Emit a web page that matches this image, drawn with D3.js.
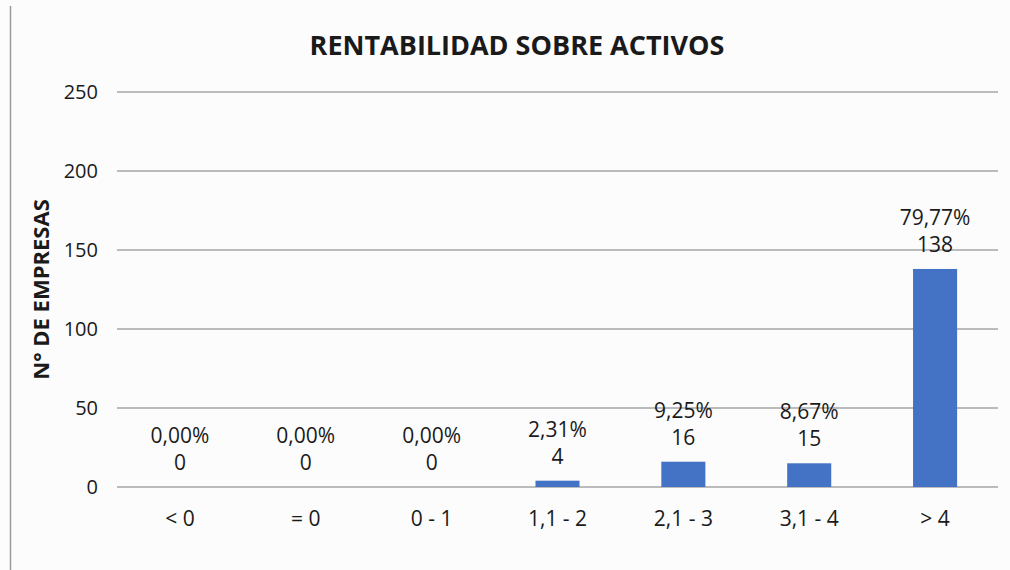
<!DOCTYPE html>
<html>
<head>
<meta charset="utf-8">
<script src="https://cdn.jsdelivr.net/npm/d3@7"></script>
<style>
  body { margin: 0; background: #fcfcfc; }
  text { font-family: "Open Sans", "Liberation Sans", sans-serif; fill: #1a1a1a; }
</style>
</head>
<body>
<div id="chart"></div>
<script>
var categories = ["< 0", "= 0", "0 - 1", "1,1 - 2", "2,1 - 3", "3,1 - 4", "> 4"];
var empresas = [0, 0, 0, 4, 16, 15, 138];
var porcentajes = ["0,00%", "0,00%", "0,00%", "2,31%", "9,25%", "8,67%", "79,77%"];
var yTicks = [0, 50, 100, 150, 200, 250];

var width = 1010, height = 570;
var margin = {top: 92, right: 12, bottom: 83, left: 117};

var svg = d3.select("#chart")
    .append("svg")
    .attr("width", width)
    .attr("height", height);

// faint frame line on the left
svg.append("line")
    .attr("x1", 10.5).attr("x2", 10.5)
    .attr("y1", 6).attr("y2", height)
    .attr("stroke", "#9a9a9a")
    .attr("stroke-width", 1.5);

var x = d3.scaleBand()
    .domain(categories)
    .range([margin.left, width - margin.right])
    .paddingInner(0.65)
    .paddingOuter(0.325);

var y = d3.scaleLinear()
    .domain([0, 250])
    .range([height - margin.bottom, margin.top]);

// gridlines
svg.append("g")
    .selectAll("line")
    .data(yTicks)
    .enter()
    .append("line")
    .attr("x1", margin.left)
    .attr("x2", width - margin.right)
    .attr("y1", function(d) { return y(d); })
    .attr("y2", function(d) { return y(d); })
    .attr("stroke", "#a6a6a6")
    .attr("stroke-width", 1.5);

// y axis labels
var yAxis = d3.axisLeft(y).tickValues(yTicks).tickSize(0).tickPadding(19);
svg.append("g")
    .attr("transform", "translate(" + margin.left + ",0)")
    .call(yAxis)
    .call(function(g) { g.select(".domain").remove(); })
    .selectAll("text")
    .style("font-size", "20px")
    .style("font-family", "'Open Sans', sans-serif")
    .attr("fill", "#1a1a1a");

// x axis labels
var xAxis = d3.axisBottom(x).tickSize(0).tickPadding(24);
svg.append("g")
    .attr("transform", "translate(0," + y(0) + ")")
    .call(xAxis)
    .call(function(g) { g.select(".domain").remove(); })
    .selectAll("text")
    .style("font-size", "21px")
    .style("font-family", "'Open Sans', sans-serif")
    .attr("fill", "#1a1a1a");

// bars
svg.append("g")
    .selectAll("rect")
    .data(empresas)
    .enter()
    .append("rect")
    .attr("x", function(d, i) { return x(categories[i]); })
    .attr("y", function(d) { return y(d); })
    .attr("width", x.bandwidth())
    .attr("height", function(d) { return y(0) - y(d); })
    .attr("fill", "#4472c4");

// data labels: count and percentage
var labels = svg.append("g");
labels.selectAll(".val")
    .data(empresas)
    .enter()
    .append("text")
    .attr("class", "val")
    .attr("x", function(d, i) { return x(categories[i]) + x.bandwidth() / 2; })
    .attr("y", function(d) { return y(d) - 17; })
    .attr("text-anchor", "middle")
    .style("font-size", "21px")
    .text(function(d) { return d; });

labels.selectAll(".pct")
    .data(empresas)
    .enter()
    .append("text")
    .attr("class", "pct")
    .attr("x", function(d, i) { return x(categories[i]) + x.bandwidth() / 2; })
    .attr("y", function(d) { return y(d) - 44; })
    .attr("text-anchor", "middle")
    .style("font-size", "21px")
    .text(function(d, i) { return porcentajes[i]; });

// title
svg.append("text")
    .attr("x", 517)
    .attr("y", 55)
    .attr("text-anchor", "middle")
    .style("font-size", "27px")
    .style("font-weight", "bold")
    .text("RENTABILIDAD SOBRE ACTIVOS");

// y axis title
svg.append("text")
    .attr("transform", "translate(49," + ((margin.top + height - margin.bottom) / 2) + ") rotate(-90)")
    .attr("text-anchor", "middle")
    .style("font-size", "22px")
    .style("font-weight", "bold")
    .text("N° DE EMPRESAS");
</script>
</body>
</html>
